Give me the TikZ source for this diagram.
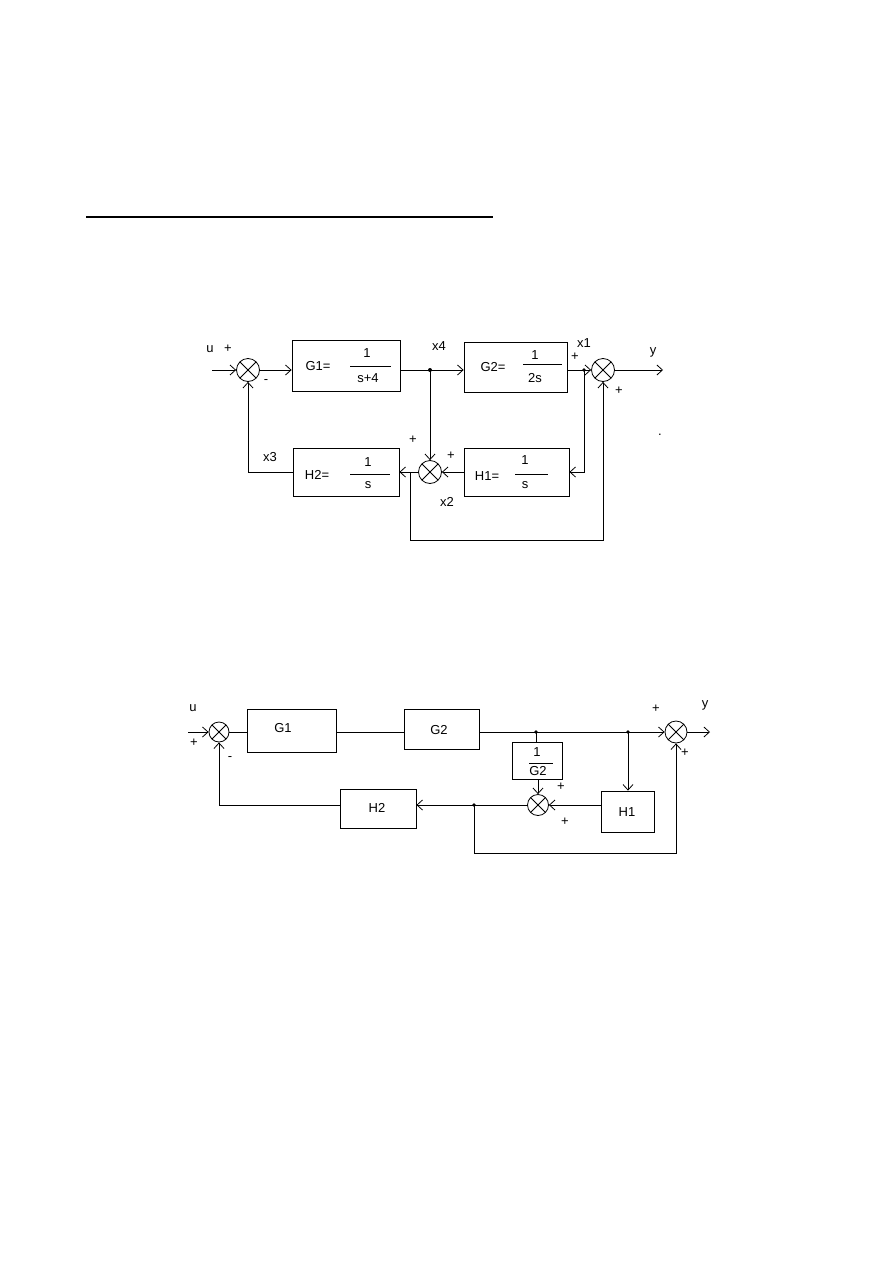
\documentclass[tikz,border=0pt]{standalone}
\usepackage{fontspec}
\setmainfont{Liberation Sans}
\usetikzlibrary{arrows.meta}
\begin{document}
\begin{tikzpicture}[x=1pt,y=-1pt,
  every node/.style={font=\fontsize{13}{15}\selectfont},
  wire/.style={line width=0.8pt},
  arr/.style={wire,-{Straight Barb[length=5.5pt,width=10pt]}},
  blk/.style={draw,line width=0.8pt,inner sep=0pt},
  sumj/.style={draw,circle,line width=0.8pt,inner sep=0pt,minimum size=#1,
    path picture={\draw[line width=0.8pt]
      (path picture bounding box.north west) -- (path picture bounding box.south east)
      (path picture bounding box.north east) -- (path picture bounding box.south west);}},
  lbl/.style={inner sep=0pt},
  bar/.style={line width=0.8pt}]
\useasboundingbox (0,0) rectangle (893,1263);

% top rule
\coordinate (r1) at (86,217);
\coordinate (r2) at (493,217);
\draw[line width=2.4pt] (r1) -- (r2);

% ================= Diagram 1 =================
\coordinate (u1) at (212,370);
\node[sumj=23pt] (s1) at (248,370) {};
\node[blk,minimum width=108pt,minimum height=51pt] (G1) at (346,365.5) {};
\coordinate (j4) at (430,370);
\node[blk,minimum width=103pt,minimum height=50pt] (G2) at (515.5,367) {};
\coordinate (j1) at (584,370);
\node[sumj=23pt] (s3) at (603,370) {};
\coordinate (y1) at (663,370);
\node[sumj=23pt] (s2) at (430,472) {};
\node[blk,minimum width=105pt,minimum height=48pt] (H1) at (516.5,472) {};
\node[blk,minimum width=106pt,minimum height=48pt] (H2) at (346,472) {};
\coordinate (b1) at (410,472);
\coordinate (c1) at (584,472);

\draw[arr] (u1) -- (s1);
\draw[arr] (s1) -- (s1 -| G1.west);
\draw[wire] (s1 -| G1.east) -- (j4);
\draw[arr] (j4) -- (j4 -| G2.west);
\draw[wire] (j4 -| G2.east) -- (j1);
\draw[arr] (j1) -- (s3);
\draw[arr] (s3) -- (y1);
\draw[arr] (j1) -- (c1) -- (H1.east);
\draw[arr] (j4) -- (s2);
\draw[arr] (H1.west) -- (s2);
\draw[arr] (s2) -- (H2.east);
\draw[arr] (H2.west) -| (s1);
\draw[arr] (b1) -- ++(0,68) -| (s3);
\fill (j4) circle (2pt);
\fill (j1) circle (1.8pt);

% box texts
\node[lbl] (tG1) at (318,366) {G1=};
\node[lbl] (nG1) at (367,353) {1};
\node[lbl] (dG1) at (368,378) {s+4};
\draw[bar] (350,366) -- (391,366);

\node[lbl] (tG2) at (493,367) {G2=};
\node[lbl] (nG2) at (535,355) {1};
\node[lbl] (dG2) at (535,378) {2s};
\draw[bar] (523,364) -- (562,364);

\node[lbl] (tH2) at (317,475) {H2=};
\node[lbl] (nH2) at (368,462) {1};
\node[lbl] (dH2) at (368,485) {s};
\draw[bar] (350,474) -- (390,474);

\node[lbl] (tH1) at (487,476) {H1=};
\node[lbl] (nH1) at (525,460) {1};
\node[lbl] (dH1) at (525,485) {s};
\draw[bar] (515,474) -- (548,474);

% labels
\node[lbl] (lu) at (210,349) {u};
\node[lbl] (p1) at (228,349) {+};
\node[lbl] (m1) at (266,382) {-};
\node[lbl] (lx3) at (270,457) {x3};
\node[lbl] (lx4) at (439,346) {x4};
\node[lbl] (p2) at (413,440) {+};
\node[lbl] (p3) at (451,456) {+};
\node[lbl] (lx2) at (447,502) {x2};
\node[lbl] (lx1) at (584,343) {x1};
\node[lbl] (p4) at (575,357) {+};
\node[lbl] (ly1) at (653,352) {y};
\node[lbl] (p5) at (619,391) {+};
\node[lbl] (dt) at (660,435) {.};

% ================= Diagram 2 =================
\coordinate (u2) at (188,732);
\node[sumj=20pt] (s4) at (219,732) {};
\node[blk,minimum width=89pt,minimum height=43pt] (G1b) at (291.5,730.5) {};
\node[blk,minimum width=75pt,minimum height=40pt] (G2b) at (441.5,729) {};
\coordinate (j5) at (536,732);
\node[blk,minimum width=50pt,minimum height=37pt] (Gi) at (537,760.5) {};
\node[sumj=21pt] (s5) at (538,805) {};
\node[blk,minimum width=53pt,minimum height=41pt] (H1b) at (627.5,811.5) {};
\coordinate (j6) at (628,732);
\node[sumj=22pt] (s6) at (676,732) {};
\coordinate (y2) at (710,732);
\coordinate (j7) at (474,805);
\node[blk,minimum width=76pt,minimum height=39pt] (H2b) at (378,808.5) {};

\draw[arr] (u2) -- (s4);
\draw[wire] (s4) -- (s4 -| G1b.west);
\draw[wire] (s4 -| G1b.east) -- (s4 -| G2b.west);
\draw[wire] (s4 -| G2b.east) -- (j5);
\draw[wire] (j5) -- (j5 |- Gi.north);
\draw[wire] (j5) -- (j6);
\draw[arr] (j6) -- (s6);
\draw[arr] (s6) -- (y2);
\draw[arr] (j6) -- (j6 |- H1b.north);
\draw[arr] (Gi.south -| s5) -- (s5);
\draw[arr] (s5 -| H1b.west) -- (s5);
\draw[wire] (s5) -- (j7);
\draw[arr] (j7) -- (j7 -| H2b.east);
\draw[arr] (j7 -| H2b.west) -| (s4);
\draw[arr] (j7) -- ++(0,48) -| (s6);
\fill (j5) circle (1.8pt);
\fill (j6) circle (1.8pt);
\fill (j7) circle (1.8pt);

\node[lbl] (tG1b) at (283,728) {G1};
\node[lbl] (tG2b) at (439,730) {G2};
\node[lbl] (tH2b) at (377,808) {H2};
\node[lbl] (tH1b) at (627,812) {H1};
\node[lbl] (nGi) at (537,752) {1};
\node[lbl] (dGi) at (538,771) {G2};
\draw[bar] (529,763) -- (553,763);

\node[lbl] (lu2) at (193,708) {u};
\node[lbl] (p6) at (194,743) {+};
\node[lbl] (m2) at (230,759) {-};
\node[lbl] (p7) at (561,787) {+};
\node[lbl] (p8) at (565,822) {+};
\node[lbl] (p9) at (656,709) {+};
\node[lbl] (ly2) at (705,705) {y};
\node[lbl] (p10) at (685,753) {+};
\end{tikzpicture}
\end{document}
